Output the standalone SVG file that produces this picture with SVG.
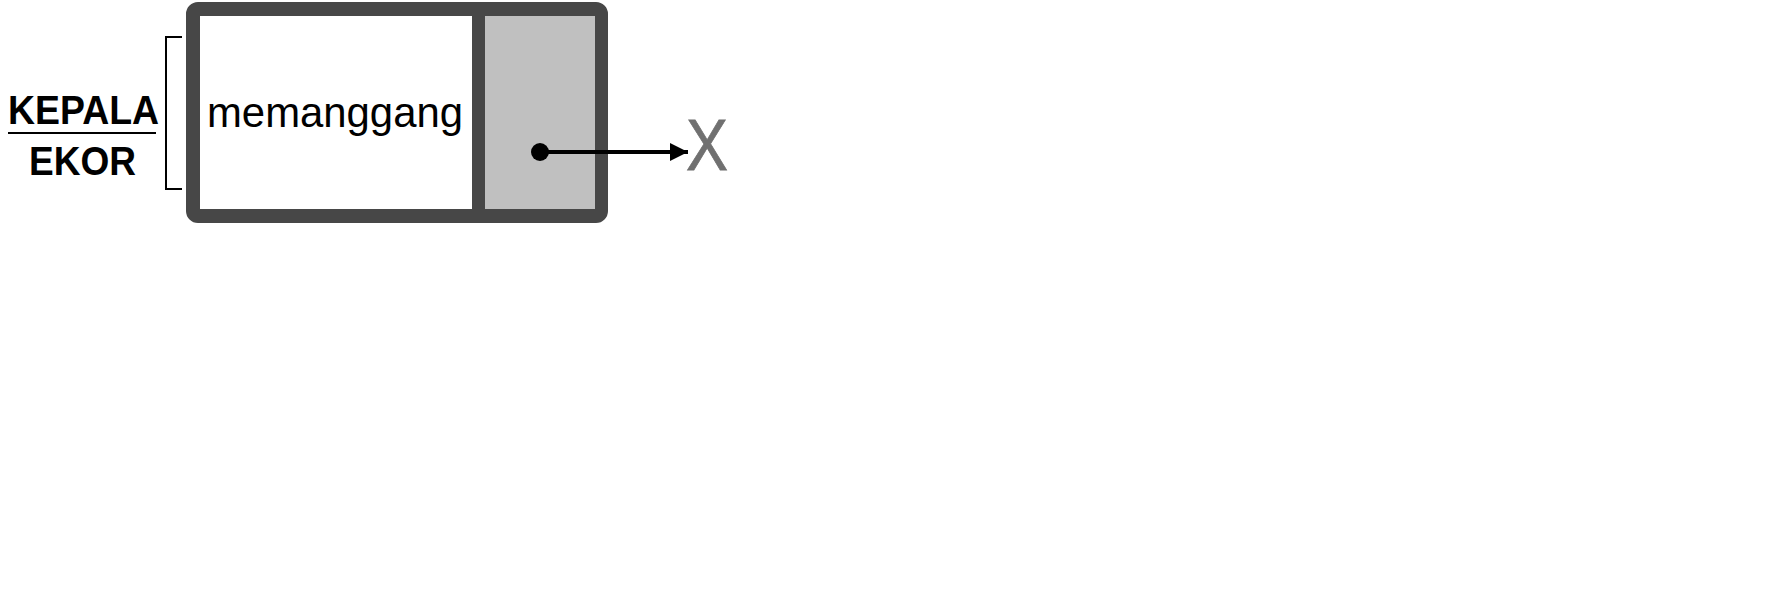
<svg xmlns="http://www.w3.org/2000/svg" width="1776" height="592" viewBox="0 0 1776 592">
<defs>
<style>
.lbl{font-family:"Liberation Sans",Arial,sans-serif;font-weight:bold;font-size:41px;fill:#000}
.val{font-family:"Liberation Sans",Arial,sans-serif;font-size:43px;fill:#000}
.x{font-family:"Liberation Sans",Arial,sans-serif;font-size:72px;fill:#707070}
</style>
<marker id="ah" viewBox="0 0 10 10" refX="10" refY="5" markerWidth="4.5" markerHeight="4.5" orient="auto" markerUnits="strokeWidth">
<path d="M0,0 L10,5 L0,10 z" fill="#000"/>
</marker>
</defs>
<rect width="1776" height="592" fill="#fff"/>
<g id="legend">
<text class="lbl" x="8" y="124" textLength="151" lengthAdjust="spacingAndGlyphs">KEPALA</text>
<line x1="8" y1="133" x2="156" y2="133" stroke="#000" stroke-width="2"/>
<text class="lbl" x="29" y="175" textLength="107" lengthAdjust="spacingAndGlyphs">EKOR</text>
<path d="M182,37 H166 V189 H182" fill="none" stroke="#000" stroke-width="2"/>
</g>
<g id="node">
<rect x="193" y="9" width="408" height="207" rx="5" fill="#fff" stroke="#474747" stroke-width="14"/>
<rect x="485" y="16" width="110" height="193" fill="#c0c0c0"/>
<rect x="472" y="16" width="13" height="193" fill="#474747"/>
<text class="val" x="207" y="127" textLength="256" lengthAdjust="spacingAndGlyphs">memanggang</text>
</g>
<g id="null">
<text class="x" x="686" y="170" textLength="42" lengthAdjust="spacingAndGlyphs" stroke="#707070" stroke-width="0.8">X</text>
</g>
<g id="connectors">
<circle cx="540" cy="152" r="9" fill="#000"/>
<line x1="540" y1="152" x2="688" y2="152" stroke="#000" stroke-width="4" marker-end="url(#ah)"/>
</g>
</svg>
